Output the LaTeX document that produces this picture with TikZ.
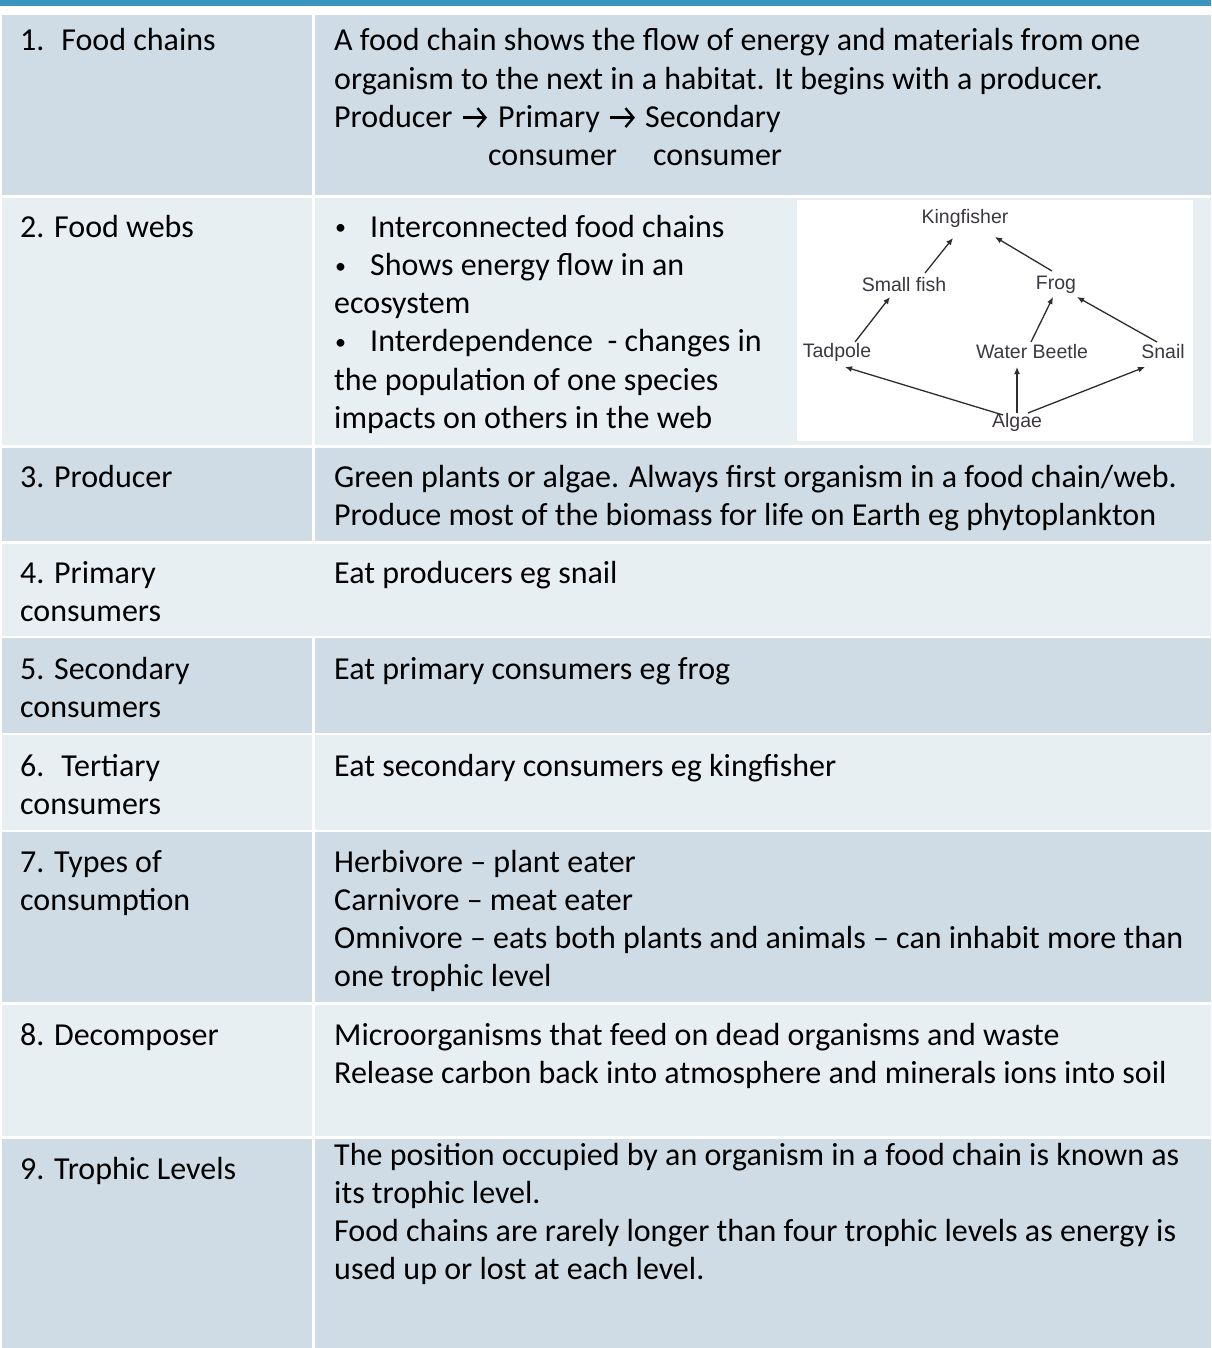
\documentclass[tikz,border=0pt]{standalone}
\usepackage{fontspec}
\setmainfont{Carlito}
\newfontfamily\webfont{Liberation Sans}
\usetikzlibrary{arrows.meta,calc}
\definecolor{bar}{RGB}{58,150,190}
\definecolor{dark}{RGB}{207,220,230}
\definecolor{light}{RGB}{232,239,243}
\definecolor{webtxt}{RGB}{60,55,65}
\definecolor{webarr}{RGB}{45,45,45}
\begin{document}
\begin{tikzpicture}[x=1pt,y=-1pt,
  txt/.style={anchor=base west,inner sep=0pt,font=\fontsize{32}{38.3}\selectfont},
  bul/.style={anchor=base west,inner sep=0pt,font=\fontsize{22}{26}\selectfont},
  web/.style={inner sep=0pt,font=\webfont\fontsize{19.5}{22}\selectfont,text=webtxt},
  arr/.style={draw=webarr,line width=1.3pt,-{Latex[length=7pt,width=6pt]}},
  chev/.style={draw=black,line width=2.4pt,-{Straight Barb[length=8pt,width=19pt,line width=2.4pt]}},
  darkcell/.style={fill=dark},
  lightcell/.style={fill=light}]
\useasboundingbox (0,0) rectangle (1211,1348);
\fill[white] (0,0) rectangle (1211,1348);
\fill[bar] (0,0) rectangle (1211,6);
% rows
\fill[darkcell] (2,15) rectangle (312,195);
\fill[darkcell] (315,15) rectangle (1211,195);
\fill[lightcell] (2,198) rectangle (312,445);
\fill[lightcell] (315,198) rectangle (1211,445);
\fill[darkcell] (2,448) rectangle (312,541);
\fill[darkcell] (315,448) rectangle (1211,541);
\fill[lightcell] (2,544) rectangle (1211,636);
\fill[darkcell] (2,638) rectangle (312,733);
\fill[darkcell] (315,638) rectangle (1211,733);
\fill[lightcell] (2,735) rectangle (312,830);
\fill[lightcell] (315,735) rectangle (1211,830);
\fill[darkcell] (2,832) rectangle (312,1002);
\fill[darkcell] (315,832) rectangle (1211,1002);
\fill[lightcell] (2,1005) rectangle (312,1136);
\fill[lightcell] (315,1005) rectangle (1211,1136);
\fill[darkcell] (2,1139) rectangle (312,1348);
\fill[darkcell] (315,1139) rectangle (1211,1348);

% row 1
\node[txt] (l1) at (20,51) {1.~ Food chains};
\node[txt] (r1a) at (334,51) {A food chain shows the flow of energy and materials from one};
\node[txt] (r1b) at (334,89.3) {organism to the next in a habitat. It begins with a producer.};
\node[txt] (r1p) at (334,127.6) {Producer};
\node[txt] (r1q) at (498,127.6) {Primary};
\node[txt] (r1s) at (645,127.6) {Secondary};
\node[txt] (r1c) at (488,165.9) {consumer};
\node[txt] (r1d) at (653,165.9) {consumer};
\draw[chev] ($(r1p.base east)+(10,-10)$) -- ($(r1q.base west)+(-11,-10)$);
\draw[chev] ($(r1q.base east)+(10,-10)$) -- ($(r1s.base west)+(-10,-10)$);

% row 2
\node[txt] (l2) at (20,237) {2. Food webs};
\node[bul] (b1) at (335,235) {•};
\node[txt] (r2a) at (370,237) {Interconnected food chains};
\node[bul] (b2) at (335,273.3) {•};
\node[txt] (r2b) at (370,275.3) {Shows energy flow in an};
\node[txt] (r2c) at (334,313.6) {ecosystem};
\node[bul] (b3) at (335,349.9) {•};
\node[txt] (r2d) at (370,351.9) {Interdependence \ - changes in};
\node[txt] (r2e) at (334,390.2) {the population of one species};
\node[txt] (r2f) at (334,428.5) {impacts on others in the web};

% food web picture
\fill[white] (797,200) rectangle (1193,441);
\node[web] (king) at (965,218) {Kingfisher};
\node[web] (sfish) at (904,285) {Small fish};
\node[web] (frog) at (1056,285) {Frog};
\node[web] (tadpole) at (837,352) {Tadpole};
\node[web] (beetle) at (1032,352) {Water Beetle};
\node[web] (snail) at (1163,352) {Snail};
\node[web] (algae) at (1017,422) {Algae};
\draw[arr] ($(sfish)+(21,-12)$) -- ($(king)+(-12,20)$);
\draw[arr] ($(frog)+(-4,-14)$) -- ($(king)+(30,19)$);
\draw[arr] ($(tadpole)+(18,-10)$) -- ($(sfish)+(-14,12)$);
\draw[arr] ($(beetle)+(-1,-10)$) -- ($(frog)+(-3,12)$);
\draw[arr] ($(snail)+(-6,-10)$) -- ($(frog)+(21,12)$);
\draw[arr] ($(algae)+(-14,-7)$) -- ($(tadpole)+(8,15)$);
\draw[arr] ($(algae)+(0,-9)$) -- ($(beetle)+(-15,15)$);
\draw[arr] ($(algae)+(11,-9)$) -- ($(snail)+(-18,15)$);

% row 3
\node[txt] (l3) at (20,487) {3. Producer};
\node[txt] (r3a) at (334,487) {Green plants or algae. Always first organism in a food chain/web.};
\node[txt] (r3b) at (334,525.3) {Produce most of the biomass for life on Earth eg phytoplankton};

% row 4
\node[txt] (l4a) at (20,583) {4. Primary};
\node[txt] (l4b) at (20,621.3) {consumers};
\node[txt] (r4) at (334,583) {Eat producers eg snail};

% row 5
\node[txt] (l5a) at (20,679) {5. Secondary};
\node[txt] (l5b) at (20,717.3) {consumers};
\node[txt] (r5) at (334,679) {Eat primary consumers eg frog};

% row 6
\node[txt] (l6a) at (20,776) {6.~ Tertiary};
\node[txt] (l6b) at (20,814.3) {consumers};
\node[txt] (r6) at (334,776) {Eat secondary consumers eg kingfisher};

% row 7
\node[txt] (l7a) at (20,872) {7. Types of};
\node[txt] (l7b) at (20,910.3) {consumption};
\node[txt] (r7a) at (334,872) {Herbivore – plant eater};
\node[txt] (r7b) at (334,910.3) {Carnivore – meat eater};
\node[txt] (r7c) at (334,948.6) {Omnivore – eats both plants and animals – can inhabit more than};
\node[txt] (r7d) at (334,986.9) {one trophic level};

% row 8
\node[txt] (l8) at (20,1045) {8. Decomposer};
\node[txt] (r8a) at (334,1045) {Microorganisms that feed on dead organisms and waste};
\node[txt] (r8b) at (334,1083.3) {Release carbon back into atmosphere and minerals ions into soil};

% row 9
\node[txt] (l9) at (20,1179) {9. Trophic Levels};
\node[txt] (r9a) at (334,1165) {The position occupied by an organism in a food chain is known as};
\node[txt] (r9b) at (334,1203.3) {its trophic level.};
\node[txt] (r9c) at (334,1241.6) {Food chains are rarely longer than four trophic levels as energy is};
\node[txt] (r9d) at (334,1279.9) {used up or lost at each level.};
\end{tikzpicture}
\end{document}
